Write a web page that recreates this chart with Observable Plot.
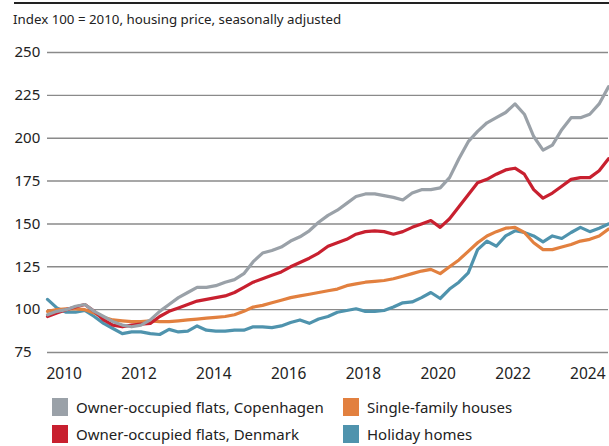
<!DOCTYPE html>
<html>
<head>
<meta charset="utf-8">
<script src="https://cdn.jsdelivr.net/npm/d3@7"></script>
<script src="https://cdn.jsdelivr.net/npm/@observablehq/plot@0.6"></script>
<style>
  html, body { margin: 0; padding: 0; background: #fff; }
  body { font-family: "Noto Sans", sans-serif; color: #222; }
  #wrap { position: relative; width: 609px; height: 446px; overflow: hidden; }
  #rule { position: absolute; left: 14px; right: 0; top: 2px; height: 2px; background: #222; }
  #title { position: absolute; left: 13px; top: 10px; font-size: 13.3px; white-space: nowrap; }
  #chart { position: absolute; left: 0; top: 35px; }
  #legend { position: absolute; left: 52px; top: 397px; font-size: 15px; }
  .item { position: absolute; white-space: nowrap; display: flex; align-items: center; }
  .sw { width: 16px; height: 18px; margin-right: 8px; }
</style>
</head>
<body>
<div id="wrap">
  <div id="rule"></div>
  <div id="title">Index 100 = 2010, housing price, seasonally adjusted</div>
  <div id="chart"></div>
  <div id="legend"></div>
</div>
<script>
const quarters = d3.range(0, 61).map(i => 2010 + i * 0.25);

const seriesNames = [
  "Owner-occupied flats, Copenhagen",
  "Owner-occupied flats, Denmark",
  "Single-family houses",
  "Holiday homes"
];
const seriesColors = ["#9aa1a8", "#c8202f", "#e2803f", "#4f93ad"];

const copenhagen = [
  97, 99, 100, 102, 103, 99, 96, 93, 91, 90, 91, 94,
  99, 103, 107, 110, 113, 113, 114, 116, 117.5, 121, 128, 133,
  134.5, 136.5, 140, 142.5, 146, 151, 155, 158, 162, 166, 167.5, 167.5,
  166.5, 165.5, 164, 168, 170, 170, 171, 177, 188, 198, 204, 209,
  212, 215, 220, 214, 201, 193, 196, 205, 212, 212, 214, 220, 230
];
const denmark = [
  96, 98, 100, 101.5, 103, 99, 94, 91, 90, 91, 91.5, 92,
  96, 99, 101, 103, 105, 106, 107, 108, 110, 113, 116, 118,
  120, 122, 125, 127.5, 130, 133, 137, 139, 141, 144, 145.5, 146,
  145.5, 144, 145.5, 148, 150, 152, 148, 153, 160, 167, 174, 176,
  179, 181.5, 182.5, 179, 170, 165, 168, 172, 176, 177, 177, 181, 188
];
const singleFamily = [
  99, 100, 100.5, 100.5, 100, 98, 95.5, 94, 93.5, 93, 93, 93.5,
  93, 93, 93.5, 94, 94.5, 95, 95.5, 96, 97, 99, 101.5, 102.5,
  104, 105.5, 107, 108, 109, 110, 111, 112, 114, 115, 116, 116.5,
  117, 118, 119.5, 121, 122.5, 123.5, 121, 125, 129, 134, 139, 143,
  145.5, 147.5, 148, 145, 139, 135, 135, 136.5, 138, 140, 141, 143, 147
];
const holiday = [
  106, 101, 98.5, 98.5, 99.5, 96, 92, 89, 86, 87, 87, 86,
  85.5, 88.5, 87, 87.5, 90.5, 88, 87.5, 87.5, 88, 88, 90, 90,
  89.5, 90.5, 92.5, 94, 92, 94.5, 96, 98.5, 99.5, 100.5, 99, 99,
  99.5, 101.5, 104, 104.5, 107, 110, 106.5, 112, 116, 121.5, 135, 140,
  137, 143, 146, 145, 143, 139.5, 143, 141.5, 145, 148, 145.5, 147.5, 150
];

const yTicks = [75, 100, 125, 150, 175, 200, 225, 250];
const xTicks = [2010, 2012, 2014, 2016, 2018, 2020, 2022, 2024];

const allSeries = [copenhagen, denmark, singleFamily, holiday];
const rows = [];
allSeries.forEach((vals, s) => {
  vals.forEach((v, i) => rows.push({ t: quarters[i], v, series: seriesNames[s] }));
});
const drawOrder = ["Holiday homes", "Single-family houses", "Owner-occupied flats, Denmark", "Owner-occupied flats, Copenhagen"];

const chart = Plot.plot({
  width: 609,
  height: 352,
  marginTop: 17,
  marginBottom: 35,
  marginLeft: 47,
  marginRight: 1,
  style: { fontFamily: "Noto Sans, sans-serif", fontSize: "15px", color: "#222", background: "transparent", overflow: "visible" },
  x: { domain: [2010, 2025] },
  y: { domain: [75, 250] },
  color: { domain: seriesNames, range: seriesColors },
  marks: [
    Plot.ruleY(yTicks, { stroke: "#8a8a8a", strokeWidth: 1.4 }),
    Plot.axisY({ ticks: yTicks, tickSize: 0, textAnchor: "start", dx: -24, label: null, fill: "#222", fontSize: 15 }),
    Plot.axisX({ ticks: xTicks, tickSize: 0, tickFormat: "d", textAnchor: "start", tickPadding: 15, dx: -1, label: null, fill: "#222", fontSize: 15.5 }),
    ...drawOrder.map(name =>
      Plot.line(rows.filter(d => d.series === name), {
        x: "t", y: "v", stroke: "series", strokeWidth: 3.2, curve: "linear", strokeLinejoin: "round"
      })
    )
  ]
});
document.getElementById("chart").appendChild(chart);

const legend = document.getElementById("legend");
const legendPos = [[0, 0], [0, 27], [291, 0], [291, 27]];
seriesNames.forEach((name, i) => {
  const el = document.createElement("div");
  el.className = "item";
  el.style.left = legendPos[i][0] + "px";
  el.style.top = legendPos[i][1] + "px";
  el.innerHTML = `<span class="sw" style="background:${seriesColors[i]}"></span><span>${name}</span>`;
  legend.appendChild(el);
});
</script>
</body>
</html>
